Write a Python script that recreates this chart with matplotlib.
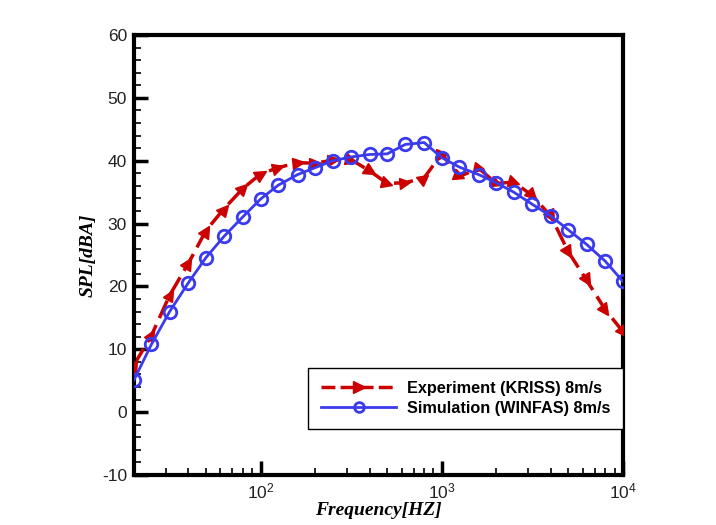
import numpy as np
import matplotlib
matplotlib.use('Agg')
import matplotlib.pyplot as plt
from matplotlib.markers import MarkerStyle
from matplotlib.transforms import Affine2D
from matplotlib.lines import Line2D
from matplotlib.ticker import FixedLocator, LogLocator, NullFormatter

# 1/3 octave band centre frequencies
freq = [20, 25, 31.5, 40, 50, 63, 80, 100, 125, 160, 200, 250, 315, 400, 500,
        630, 800, 1000, 1250, 1600, 2000, 2500, 3150, 4000, 5000, 6300, 8000, 10000]

# Experiment (KRISS) 8m/s
spl_exp = [7.5, 12.2, 18.6, 23.7, 28.9, 32.4, 35.6, 37.9, 38.9, 39.7, 39.6, 40.1, 40.2, 38.4,
           36.4, 36.5, 37.3, 41.1, 37.5, 38.8, 36.4, 36.6, 34.5, 31.2, 25.5, 21.0, 16.3, 12.8]

# Simulation (WINFAS) 8m/s
spl_sim = [5.1, 10.8, 16.0, 20.6, 24.6, 28.0, 31.1, 33.9, 36.1, 37.8, 38.9, 40.0, 40.6, 41.0,
           41.1, 42.6, 42.9, 40.5, 39.0, 37.8, 36.5, 35.0, 33.1, 31.2, 29.0, 26.7, 24.0, 20.8]

label_exp = 'Experiment (KRISS) 8m/s'
label_sim = 'Simulation (WINFAS) 8m/s'

red = '#cc0000'
blue = '#3a3aee'

plt.rcParams['font.family'] = ['Liberation Sans', 'DejaVu Sans']
plt.rcParams['axes.unicode_minus'] = False
plt.rcParams['mathtext.fontset'] = 'custom'
plt.rcParams['mathtext.rm'] = 'Liberation Sans'

fig = plt.figure(figsize=(7.16, 5.25), dpi=100)
ax = fig.add_axes([0.187, 0.0952, 0.683, 0.838])
ax.set_xscale('log')
ax.set_xlim(20, 10000)
ax.set_ylim(-10, 60)

# experiment: dashed line, arrowheads pointing along the line
ax.plot(freq, spl_exp, color=red, lw=2.5, dashes=(5.5, 2.2), zorder=2)
pts = ax.transData.transform(np.column_stack([freq, spl_exp]))
for i in range(len(freq)):
    a = pts[max(i - 1, 0)]
    b = pts[min(i + 1, len(freq) - 1)]
    ang = np.degrees(np.arctan2(b[1] - a[1], b[0] - a[0]))
    m = MarkerStyle('>', transform=Affine2D().rotate_deg(ang))
    ax.plot(freq[i], spl_exp[i], marker=m, color=red, ms=8, mec=red, zorder=3)

# simulation
ax.plot(freq, spl_sim, color=blue, lw=2, marker='o', ms=9, mfc='none', mec=blue, mew=2, zorder=4)

ax.set_yticks(np.arange(-10, 61, 10))
ax.yaxis.set_minor_locator(FixedLocator(np.arange(-10, 61, 2)))
ax.xaxis.set_major_locator(LogLocator(base=10, numticks=10))
ax.xaxis.set_minor_locator(LogLocator(base=10, subs=np.arange(2, 10), numticks=20))
ax.xaxis.set_minor_formatter(NullFormatter())
ax.tick_params(which='major', direction='in', length=10, width=2.5, labelsize=12.5, pad=5,
               labelcolor='#222222')
ax.tick_params(which='minor', direction='in', length=5, width=1.2)
for sp in ax.spines.values():
    sp.set_linewidth(3)

ax.set_xlabel('Frequency[HZ]', family='Liberation Serif', style='italic', weight='bold', fontsize=14, labelpad=0)
ax.set_ylabel('SPL[dBA]', family='Liberation Serif', style='italic', weight='bold', fontsize=14, labelpad=4)

handles = [
    Line2D([], [], color=red, lw=2.5, dashes=(4, 1.5), marker='>', ms=8, mec=red),
    Line2D([], [], color=blue, lw=2, marker='o', ms=7, mfc='none', mec=blue, mew=2),
]
leg = ax.legend(handles, [label_exp, label_sim], loc='lower right', bbox_to_anchor=(1.0, 0.105),
                borderaxespad=0, fancybox=False, edgecolor='black', framealpha=1,
                prop={'weight': 'bold', 'size': 11.7}, handlelength=4.6, handletextpad=0.65,
                labelspacing=0.3, borderpad=0.8)
leg.get_frame().set_linewidth(1)

fig.savefig('out.png', dpi=100)
